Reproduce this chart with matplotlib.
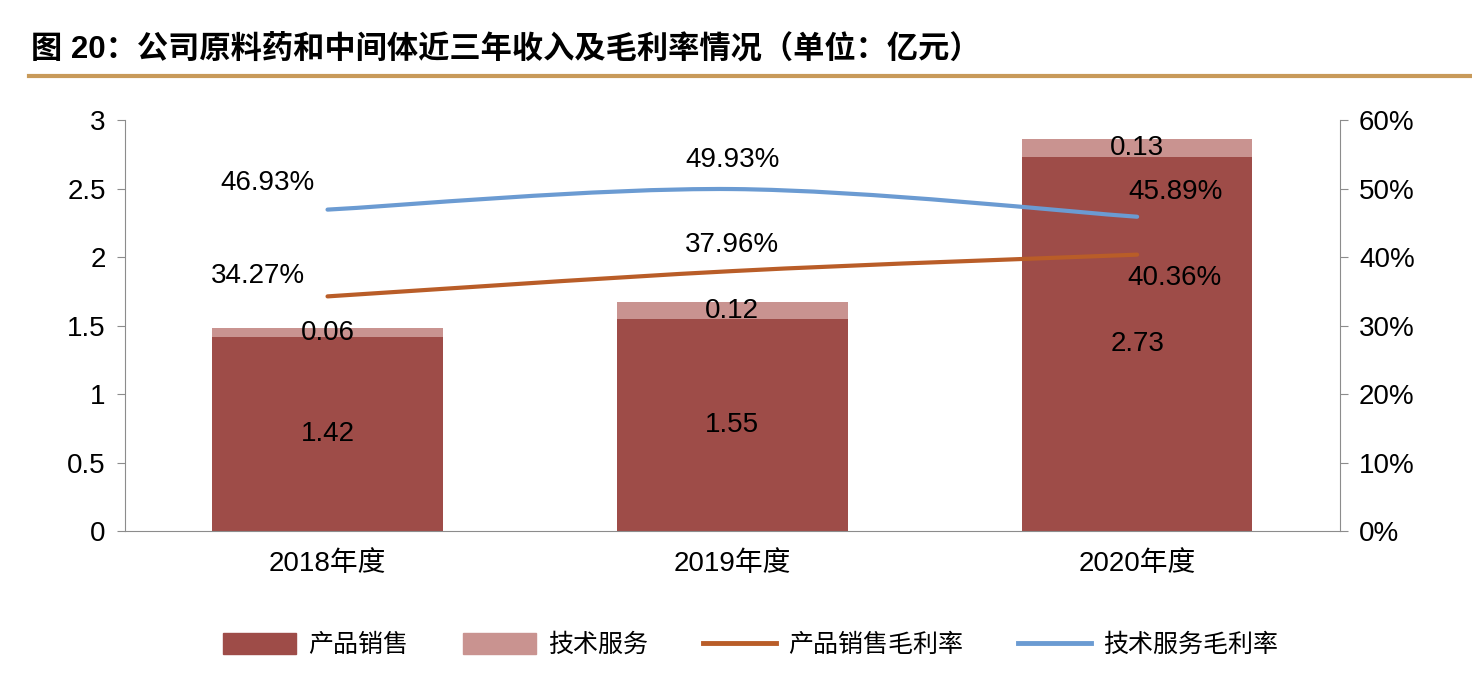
import matplotlib
matplotlib.use("Agg")
import matplotlib.pyplot as plt
from matplotlib.path import Path
from matplotlib.patches import PathPatch, Patch
from matplotlib.lines import Line2D
import numpy as np

plt.rcParams['font.family'] = ['Liberation Sans', 'Noto Sans CJK SC']

# data
years = ["2018年度", "2019年度", "2020年度"]
product_sales = [1.42, 1.55, 2.73]
tech_service = [0.06, 0.12, 0.13]
product_margin = [34.27, 37.96, 40.36]
service_margin = [46.93, 49.93, 45.89]

dark_red = '#9E4C48'
light_red = '#C99390'
orange = '#B95D28'
blue = '#6B9BD2'
axis_gray = '#8C8C8C'


def smooth_path(xs, ys):
    # Excel-like smoothed line through the points (cubic bezier)
    pts = np.column_stack([xs, ys]).astype(float)
    n = len(pts)
    verts = [pts[0]]
    codes = [Path.MOVETO]
    for i in range(n - 1):
        p0 = pts[i - 1] if i > 0 else pts[i]
        p1 = pts[i]
        p2 = pts[i + 1]
        p3 = pts[i + 2] if i + 2 < n else pts[i + 1]
        c1 = p1 + (p2 - p0) / 6.0
        c2 = p2 - (p3 - p1) / 6.0
        verts += [c1, c2, p2]
        codes += [Path.CURVE4] * 3
    return Path(verts, codes)


fig = plt.figure(figsize=(14.72, 6.82), dpi=100)
ax = fig.add_axes([0.085, 0.221, 0.825, 0.603])
x = np.arange(len(years))
w = 0.57
fs = 20

ax.bar(x, product_sales, width=w, color=dark_red, zorder=2)
ax.bar(x, tech_service, width=w, bottom=product_sales, color=light_red, zorder=2)

for i in range(len(years)):
    ax.text(x[i], product_sales[i] / 2, f"{product_sales[i]:.2f}", ha='center', va='center', fontsize=fs, zorder=5)
    ax.text(x[i], product_sales[i] + tech_service[i] / 2, f"{tech_service[i]:.2f}", ha='center', va='center',
            fontsize=fs, zorder=5)

ax.set_ylim(0, 3)
ax.set_xlim(-0.5, 2.5)
ax.set_yticks(np.arange(0, 3.01, 0.5))
ax.set_yticklabels(["0", "0.5", "1", "1.5", "2", "2.5", "3"])
ax.set_xticks(x)
ax.set_xticklabels(years, fontsize=fs)
ax.tick_params(axis='y', labelsize=fs, length=6, color=axis_gray, pad=8)
ax.tick_params(axis='x', length=0, pad=14)
for s in ['top', 'right']:
    ax.spines[s].set_visible(False)
for s in ['left', 'bottom']:
    ax.spines[s].set_color(axis_gray)

ax2 = ax.twinx()
ax2.set_ylim(0, 60)
ax2.set_yticks(np.arange(0, 61, 10))
ax2.set_yticklabels([f"{v}%" for v in range(0, 61, 10)])
ax2.tick_params(axis='y', labelsize=fs, length=6, color=axis_gray, pad=8)
for s in ['top', 'left', 'bottom']:
    ax2.spines[s].set_visible(False)
ax2.spines['right'].set_color(axis_gray)

ax2.add_patch(PathPatch(smooth_path(x, product_margin), fill=False, edgecolor=orange, lw=3,
                        capstyle='round', zorder=3))
ax2.add_patch(PathPatch(smooth_path(x, service_margin), fill=False, edgecolor=blue, lw=3,
                        capstyle='round', zorder=3))

# line labels
pm_off = [(-50, 15), (0, 19), (27, -17)]
sm_off = [(-43, 19), (0, 21), (28, 18)]
for i in range(len(years)):
    ax2.annotate(f"{product_margin[i]:.2f}%", (x[i], product_margin[i]), xytext=pm_off[i],
                 textcoords='offset points', ha='center', va='center', fontsize=fs)
    ax2.annotate(f"{service_margin[i]:.2f}%", (x[i], service_margin[i]), xytext=sm_off[i],
                 textcoords='offset points', ha='center', va='center', fontsize=fs)

# title and rule
fig.text(0.021, 0.928, "图 20：公司原料药和中间体近三年收入及毛利率情况（单位：亿元）", fontsize=22.5,
         fontweight='bold', family=['Liberation Sans', 'Noto Sans CJK SC'], va='center', ha='left')
fig.add_artist(Line2D([0.02, 1.0], [0.888, 0.888], color='#C89A5A', lw=3))

handles = [Patch(color=dark_red), Patch(color=light_red),
           Line2D([], [], color=orange, lw=3.5), Line2D([], [], color=blue, lw=3.5)]
labels = ["产品销售", "技术服务", "产品销售毛利率", "技术服务毛利率"]
fig.legend(handles, labels, loc='center', bbox_to_anchor=(0.51, 0.054), ncol=4, frameon=False,
           fontsize=18, handlelength=2.9, handleheight=0.9, columnspacing=2.2, handletextpad=0.5)

fig.savefig("out.png", dpi=100)
